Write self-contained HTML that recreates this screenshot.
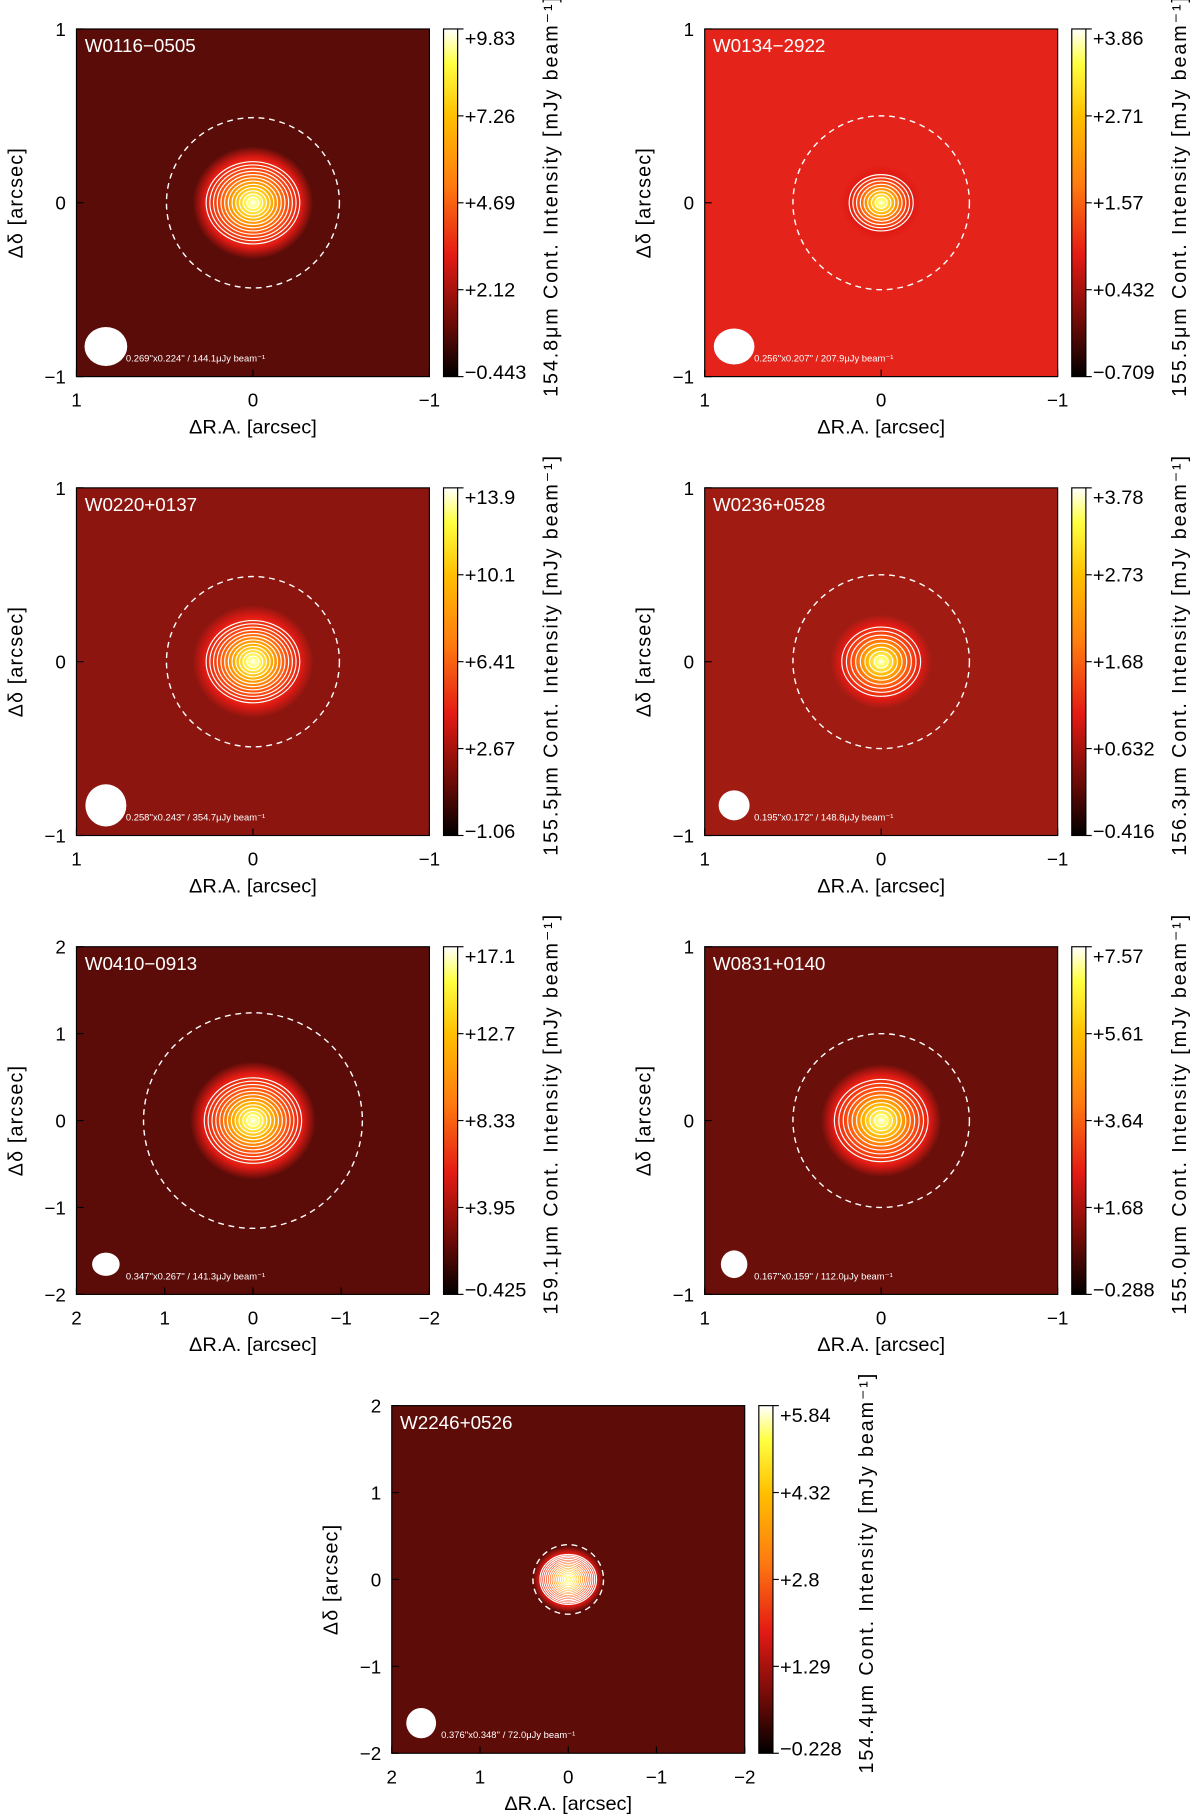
<!DOCTYPE html>
<html><head><meta charset="utf-8">
<style>
html,body{margin:0;padding:0;background:#fff;}
svg{display:block;}
text{font-family:"Liberation Sans","DejaVu Sans",sans-serif;}
</style></head>
<body>
<svg id="fig" width="1200" height="1817" viewBox="0 0 1020 1568" preserveAspectRatio="none" xmlns="http://www.w3.org/2000/svg">
<defs>
<linearGradient id="cbgrad" x1="0" y1="1" x2="0" y2="0">
<stop offset="0" stop-color="#000000"/>
<stop offset="0.15" stop-color="#6a0a06"/>
<stop offset="0.35" stop-color="#e41a14"/>
<stop offset="0.55" stop-color="#ff7a10"/>
<stop offset="0.75" stop-color="#ffc000"/>
<stop offset="0.9" stop-color="#ffff40"/>
<stop offset="1" stop-color="#ffffff"/>
</linearGradient>
<radialGradient id="src">
<stop offset="0" stop-color="#ffffff"/>
<stop offset="0.1" stop-color="#ffff60"/>
<stop offset="0.3" stop-color="#ffb000"/>
<stop offset="0.55" stop-color="#ff5010"/>
<stop offset="0.8" stop-color="#e01a14"/>
<stop offset="1" stop-color="#e01a14" stop-opacity="0"/>
</radialGradient>
</defs>
</svg>
<script>
const NS="http://www.w3.org/2000/svg";
const svg=document.getElementById('fig');
const names=["W0116−0505","W0134−2922","W0220+0137","W0236+0528","W0410−0913","W0831+0140","W2246+0526"];
const px=[65,599,65,599,65,599,333];
const py=[25,25,421,421,817,817,1213];
const xrange=[1,1,1,1,2,1,2];
const yrange=[1,1,1,1,2,1,2];
const cbMax=["+9.83","+3.86","+13.9","+3.78","+17.1","+7.57","+5.84"];
const cb3=["+7.26","+2.71","+10.1","+2.73","+12.7","+5.61","+4.32"];
const cb2=["+4.69","+1.57","+6.41","+1.68","+8.33","+3.64","+2.8"];
const cb1=["+2.12","+0.432","+2.67","+0.632","+3.95","+1.68","+1.29"];
const cbMin=["−0.443","−0.709","−1.06","−0.416","−0.425","−0.288","−0.228"];
const wave=["154.8","155.5","155.5","156.3","159.1","155.0","154.4"];
const beamTxt=["0.269''x0.224'' / 144.1μJy beam⁻¹","0.256''x0.207'' / 207.9μJy beam⁻¹","0.258''x0.243'' / 354.7μJy beam⁻¹","0.195''x0.172'' / 148.8μJy beam⁻¹","0.347''x0.267'' / 141.3μJy beam⁻¹","0.167''x0.159'' / 112.0μJy beam⁻¹","0.376''x0.348'' / 72.0μJy beam⁻¹"];
const beamA=[0.269,0.256,0.258,0.195,0.347,0.167,0.376];
const beamB=[0.224,0.207,0.243,0.172,0.267,0.159,0.348];
const bg=["#5a0c08","#e4231a","#8c160f","#a01c13","#5c0c08","#6a0f0a","#5e0c08"];
const srcSize=[0.36,0.24,0.36,0.3,0.75,0.36,0.42];
const nContours=[12,8,12,8,12,10,14];
const dashR=[0.49,0.5,0.49,0.5,1.24,0.5,0.4];
const S=300;
function el(tag,attrs,parent){const e=document.createElementNS(NS,tag);for(const k in attrs)e.setAttribute(k,attrs[k]);(parent||svg).appendChild(e);return e;}
for(let i=0;i<names.length;i++){
  const g=el('g',{});
  
  
  const x0=px[i],y0=py[i];
  const sx=v=>x0+S/2-v/xrange[i]*S/2;
  const sy=v=>y0+S/2-v/yrange[i]*S/2;
  const sc=S/2/xrange[i];
  const bgR=el('rect',{x:x0,y:y0,width:S,height:S,fill:bg[i]},g);
  
  const sr=srcSize[i]*sc*0.95;
  const src=el('ellipse',{cx:sx(0),cy:sy(0),rx:sr,ry:sr*0.95,fill:'url(#src)'},g);
  
  for(let k=0;k<nContours[i];k++){
    const f=1-k/nContours[i];
    const c=el('ellipse',{cx:sx(0),cy:sy(0),rx:srcSize[i]*sc*0.7*f+2,ry:srcSize[i]*sc*0.62*f+2,fill:'none',stroke:'#fff','stroke-width':1},g);
    
  }
  const dc=el('circle',{cx:sx(0),cy:sy(0),r:dashR[i]*sc,fill:'none',stroke:'#fff','stroke-width':1.2,'stroke-dasharray':'5,4'},g);
  
  const fr=el('rect',{x:x0,y:y0,width:S,height:S,fill:'none',stroke:'#000','stroke-width':1},g);
  
  const t=el('text',{x:x0+7,y:y0+20,fill:'#fff','font-size':16},g);t.textContent=names[i];
  
  const brx=beamA[i]/2*sc, bry=beamB[i]/2*sc;
  const be=el('ellipse',{cx:x0+25,cy:y0+S-26,rx:Math.max(brx,bry)*0.9,ry:Math.min(brx,bry)*1.0,fill:'#fff'},g);
  
  const bt=el('text',{x:x0+42,y:y0+S-13,fill:'#fff','font-size':8},g);bt.textContent=beamTxt[i];
  
  for(let v=-yrange[i];v<=yrange[i];v++){
    const tl=el('text',{x:x0-9,y:sy(v)+6,'text-anchor':'end','font-size':16,fill:'#000'},g);tl.textContent=v<0?'−'+(-v):v;
    
    el('line',{x1:x0,x2:x0+6,y1:sy(v),y2:sy(v),stroke:'#000'},g);
  }
  for(let v=-xrange[i];v<=xrange[i];v++){
    const tl=el('text',{x:sx(v),y:y0+S+26,'text-anchor':'middle','font-size':16,fill:'#000'},g);tl.textContent=v<0?'−'+(-v):v;
    
    el('line',{x1:sx(v),x2:sx(v),y1:y0+S,y2:y0+S-6,stroke:'#000'},g);
  }
  const xt=el('text',{x:x0+S/2,y:y0+S+49,'text-anchor':'middle','font-size':17,fill:'#000'},g);xt.textContent='ΔR.A. [arcsec]';
  
  const yt=el('text',{x:0,y:0,'text-anchor':'middle','font-size':17,fill:'#000','letter-spacing':'1',transform:`translate(${x0-46},${y0+S/2}) rotate(-90)`},g);yt.textContent='Δδ [arcsec]';
  
  const cx=x0+S+12;
  const cb=el('rect',{x:cx,y:y0,width:12,height:S,fill:'url(#cbgrad)',stroke:'#000','stroke-width':1},g);
  
  const labs=[cbMin[i],cb1[i],cb2[i],cb3[i],cbMax[i]];
  for(let k=0;k<5;k++){
    const yy=y0+S-k*S/4;
    el('line',{x1:cx+12,x2:cx+17,y1:yy,y2:yy,stroke:'#000'},g);
    const cl=el('text',{x:cx+18,y:Math.min(Math.max(yy+6,y0+14),y0+S+2),'font-size':17,fill:'#000'},g);cl.textContent=labs[k];
    
  }
  const ct=el('text',{x:0,y:0,'text-anchor':'middle','font-size':17,fill:'#000',textLength:345,lengthAdjust:'spacing',transform:`translate(${cx+97},${y0+S/2-5}) rotate(-90)`},g);
  ct.textContent=wave[i]+'μm Cont. Intensity [mJy beam⁻¹]';
  
}
</script>
</body></html>
